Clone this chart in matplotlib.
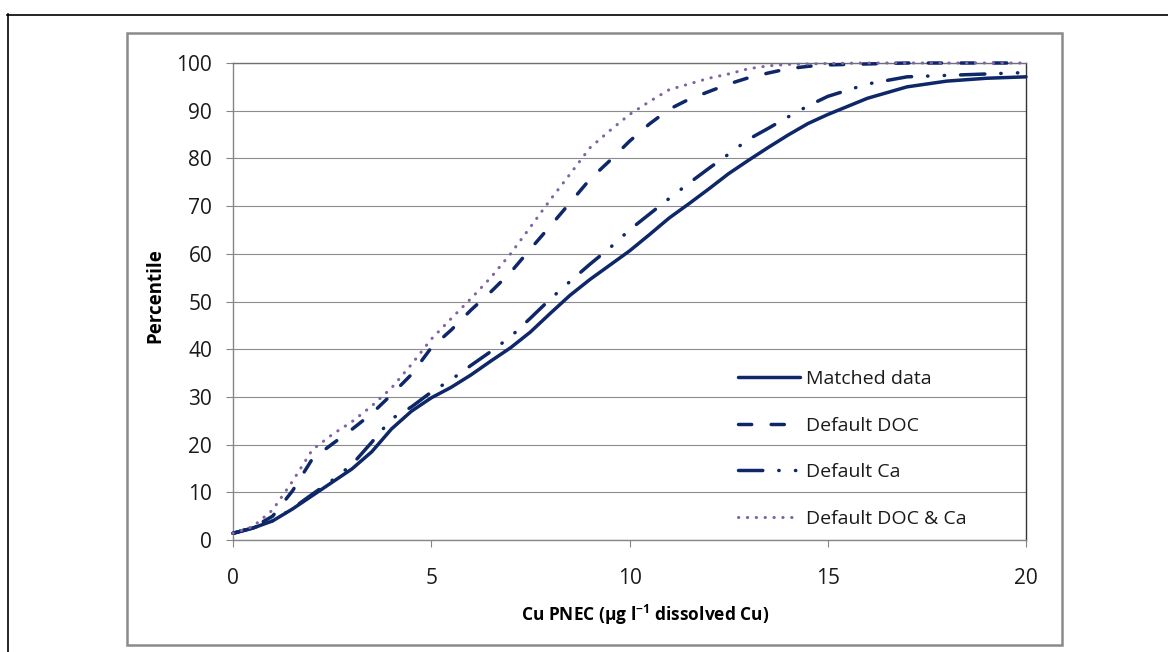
import matplotlib
matplotlib.use("Agg")
import matplotlib.pyplot as plt
from matplotlib.lines import Line2D
from matplotlib.patches import Rectangle

plt.rcParams['font.family'] = ['Open Sans', 'DejaVu Sans']
plt.rcParams['mathtext.default'] = 'regular'

# ---- data ----
cu_pnec = [0, 0.5, 1, 1.5, 2, 2.5, 3, 3.5, 4, 4.5, 5, 5.5, 6, 6.5, 7, 7.5, 8, 8.5,
           9, 9.5, 10, 10.5, 11, 11.5, 12, 12.5, 13, 13.5, 14, 14.5, 15, 16, 17, 18, 19, 20]

matched = [1.4, 2.5, 4.0, 6.5, 9.3, 12.1, 14.9, 18.5, 23.3, 27.0, 29.8, 32.0, 34.6, 37.5,
           40.3, 43.6, 47.5, 51.3, 54.6, 57.6, 60.6, 64.0, 67.5, 70.5, 73.6, 76.8, 79.6,
           82.3, 84.9, 87.3, 89.2, 92.6, 95.0, 96.2, 96.8, 97.1]

default_doc = [1.4, 2.6, 5.0, 10.3, 17.0, 20.1, 23.2, 26.5, 30.5, 34.7, 40.3, 44.0, 48.2,
               52.0, 56.1, 61.0, 65.8, 70.7, 75.6, 79.5, 83.6, 87.2, 90.3, 92.4, 94.0, 95.6,
               96.9, 97.9, 98.8, 99.3, 99.6, 99.8, 100, 100, 100, 100]

default_ca = [1.4, 2.5, 4.0, 6.6, 9.6, 12.5, 15.8, 20.5, 25.4, 27.9, 31.0, 33.6, 36.6, 39.5,
              42.6, 46.5, 50.5, 54.2, 57.8, 61.2, 65.0, 68.3, 71.6, 74.8, 77.9, 80.9, 84.0,
              86.3, 88.7, 91.0, 93.0, 95.6, 97.1, 97.4, 97.7, 98.0]

default_doc_ca = [1.4, 2.8, 6.3, 12.3, 18.9, 22.1, 24.8, 28.1, 31.9, 36.8, 42.1, 46.4, 50.6,
                  55.0, 60.0, 65.6, 71.3, 76.7, 82.2, 85.8, 89.2, 91.9, 94.4, 95.6, 96.8, 97.7,
                  98.8, 99.4, 99.7, 99.8, 99.9, 100, 100, 100, 100, 100]

labels = ['Matched data', 'Default DOC', 'Default Ca', 'Default DOC & Ca']
yticks = [0, 10, 20, 30, 40, 50, 60, 70, 80, 90, 100]
xticks = [0, 5, 10, 15, 20]

NAVY = '#0d2768'
PURPLE = '#8064a2'
GRID = '#8c8c8c'

W, H = 1168, 652


def fx(px):
    return px / W


def fy(py):
    return 1 - py / H


fig = plt.figure(figsize=(W / 100, H / 100), dpi=100)
fig.patch.set_facecolor('white')

# outer page frame and Excel chart-area border
fig.add_artist(Line2D([fx(7), 1.0], [fy(14.5), fy(14.5)], color='black', lw=1.2))
fig.add_artist(Line2D([fx(7.5), fx(7.5)], [fy(14), 0.0], color='black', lw=1.2))
fig.add_artist(Rectangle((fx(127), fy(645)), fx(1062) - fx(127), fy(33) - fy(645),
                         fill=False, edgecolor='#8a8a8a', lw=1.8))

ax = fig.add_axes([fx(233), fy(540), fx(1026) - fx(233), fy(63) - fy(540)])
ax.set_facecolor('white')

lw = 2.5
ax.plot(cu_pnec, matched, color=NAVY, lw=lw, solid_capstyle='round',
        label=labels[0], clip_on=False, zorder=3)
ax.plot(cu_pnec, default_doc, color=NAVY, lw=lw, dashes=(3.8, 5.6),
        dash_capstyle='round', label=labels[1], clip_on=False, zorder=3)
ax.plot(cu_pnec, default_ca, color=NAVY, lw=lw, dashes=(7, 4.6, 0.1, 4.7, 0.1, 4.6),
        dash_capstyle='round', label=labels[2], clip_on=False, zorder=3)
ax.plot(cu_pnec, default_doc_ca, color=PURPLE, lw=2.2, dashes=(0.1, 2.8),
        dash_capstyle='round', label=labels[3], clip_on=False, zorder=4)

ax.set_xlim(0, 20)
ax.set_ylim(0, 100)
ax.set_xticks(xticks)
ax.set_yticks(yticks)
ax.grid(axis='y', color=GRID, lw=0.8)
ax.set_axisbelow(True)

ax.spines['left'].set_color('#868686')
ax.spines['bottom'].set_color('#868686')
ax.spines['top'].set_color('#707070')
ax.spines['right'].set_color('#333333')
for sp in ax.spines.values():
    sp.set_linewidth(1.0)

ax.tick_params(axis='y', length=5, width=0.8, color='#868686', pad=10,
               labelsize=15, labelcolor='#1a1a1a')
ax.tick_params(axis='x', length=5, width=0.8, color='#868686', pad=15,
               labelsize=15, labelcolor='#1a1a1a')

fig.text(fx(155), fy(296), 'Percentile', rotation=90, ha='center', va='center',
         fontsize=13.5, fontweight='bold', color='black')
fig.text(fx(645), fy(615), 'Cu PNEC (\u03bcg l$^{-1}$ dissolved Cu)', ha='center',
         va='center', fontsize=12.5, fontweight='bold', color='black')

leg = ax.legend(loc='upper left', bbox_to_anchor=(fx(738), fy(370)),
                bbox_transform=fig.transFigure, frameon=False, fontsize=14,
                handlelength=3.2, handletextpad=0.3, labelspacing=1.47,
                borderpad=0, borderaxespad=0)
for t in leg.get_texts():
    t.set_color('#1a1a1a')

fig.savefig('out.png', dpi=100, facecolor='white')
